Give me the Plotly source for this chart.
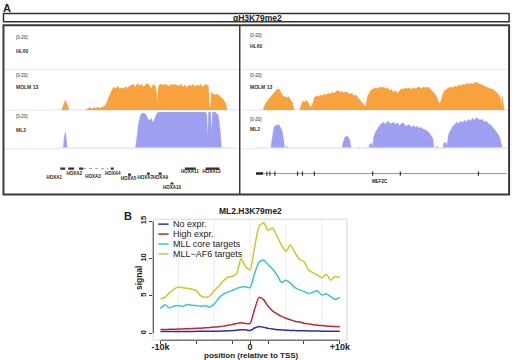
import plotly.graph_objects as go

W, H = 520, 360
FONT = "Liberation Sans, Arial, sans-serif"


def px(x):
    return x / W


def py(y):
    return 1 - y / H


# ---------------- Panel A data ----------------
PANEL_A_TITLE = "αH3K79me2"
TRACKS = ["HL60", "MOLM 13", "ML2"]
TRACK_SCALE = "[0-20]"
ORANGE = "#f8a23e"
PURPLE = "#9f9ff2"

# (position, coverage 0-20) for HOXA locus
HOXA_MOLM13 = [(55, 0), (60, 0), (61, 1), (62, 3), (63, 5), (64, 5.5), (65, 4.5), (66, 3), (67, 1), (68, 0),
               (84, 0), (86, 0.3), (87, 1), (89, 1.5), (91, 0.5), (93, 1.5), (95, 1), (97, 1.8), (99, 1),
               (101, 1.5), (103, 2), (105, 3), (107, 6), (109, 9), (111, 11), (113, 13), (115, 12),
               (117, 13.5), (119, 12), (121, 12.5), (123, 12), (125, 13), (127, 12.5), (129, 13.5),
               (131, 14), (133, 14.5), (135, 13), (137, 15), (139, 13.5), (141, 14.5), (143, 13),
               (145, 14), (147, 15), (149, 14), (151, 12), (153, 14.5), (155, 13.5), (156, 11), (157, 3),
               (158, 12), (159, 14), (161, 14.5), (163, 14), (165, 14.5), (167, 14), (169, 13.5),
               (171, 14.5), (173, 14), (175, 14.5), (177, 14), (179, 13.5), (181, 14.5), (183, 13),
               (185, 14), (187, 12.5), (189, 14), (191, 13.5), (193, 14.5), (195, 13), (197, 14),
               (199, 13.5), (201, 14.5), (203, 13), (205, 14), (207, 14.5), (209, 13), (210, 2), (211, 2),
               (212, 10), (214, 9), (216, 8.5), (218, 9), (220, 8), (222, 7), (224, 6), (226, 4), (228, 0),
               (235, 0)]
HOXA_ML2 = [(55, 0), (62, 0), (63, 6), (64, 8.8), (65, 5), (66, 0), (135, 0), (136, 3), (137, 8), (138, 13),
            (139, 16), (140, 18), (141, 19), (143, 19.5), (145, 19), (147, 17), (149, 15), (151, 16.5),
            (153, 14), (155, 17), (157, 19.5), (159, 20), (170, 20), (180, 19.8), (190, 20), (200, 20),
            (205, 20), (207, 19.5), (208, 6), (209, 20), (211, 20), (212, 8), (213, 20), (215, 20),
            (217, 19.5), (219, 18), (220, 14), (221, 8), (222, 0), (235, 0)]

# (position, coverage 0-20) for MEF2C locus
MEF2C_MOLM13 = [(258, 0), (264, 0), (266, 3), (268, 5), (270, 6.5), (272, 7.5), (274, 9), (276, 10.5),
                (278, 11.5), (280, 12), (282, 9.5), (284, 8), (286, 7.5), (288, 7), (290, 7.5), (292, 6),
                (294, 4), (295, 1), (296, 0), (301, 0), (302, 2), (304, 5), (306, 4.5), (308, 5.5),
                (310, 4), (312, 1.5), (314, 3), (316, 7), (318, 8), (320, 7.5), (322, 8.5), (324, 8),
                (326, 9), (328, 8.5), (330, 9.5), (332, 9), (334, 10), (336, 9.5), (338, 10.5), (340, 11),
                (342, 10), (344, 10.5), (346, 9.5), (348, 10.5), (350, 9.5), (352, 9), (354, 9.5), (356, 8),
                (358, 8.5), (360, 7), (362, 6), (364, 4.5), (366, 3), (368, 2), (370, 8), (372, 10),
                (374, 11.5), (376, 12), (378, 12.5), (380, 12), (382, 13), (384, 12.5), (386, 13), (388, 12),
                (390, 12.5), (392, 11), (394, 11.5), (396, 10), (398, 11), (400, 9.5), (402, 11), (404, 12),
                (406, 11.5), (408, 12.5), (410, 12), (412, 12.5), (414, 11.5), (416, 12.5), (418, 12),
                (420, 12.5), (422, 13), (424, 12), (426, 13), (428, 12.5), (430, 13), (432, 12.5),
                (434, 11.5), (436, 10), (438, 9), (440, 7), (442, 4), (444, 5), (446, 9), (448, 11),
                (450, 12), (452, 12.5), (454, 13), (456, 12.5), (458, 13.5), (460, 13), (462, 14),
                (464, 13.5), (466, 14.5), (468, 14), (470, 15), (472, 14.5), (474, 15), (476, 14.5),
                (478, 15.5), (480, 15.5), (482, 15), (484, 14.5), (486, 14), (488, 13.5), (490, 13),
                (492, 12.5), (494, 12), (496, 12), (498, 11), (500, 10), (502, 9), (504, 7), (505, 2),
                (506, 8), (507, 3), (508, 0), (512, 0)]
MEF2C_ML2 = [(258, 0), (272, 0), (273, 4), (274, 9), (275, 11), (276, 12.5), (277, 12), (278, 13), (279, 12.5),
             (280, 13), (281, 12), (282, 11.5), (283, 10), (284, 8), (285, 3), (286, 0), (287, 0), (288, 0.8),
             (289, 0), (344, 0), (345, 3), (346, 5), (347, 6), (348, 6.5), (349, 6), (350, 6.5), (351, 5),
             (352, 4), (353, 0), (360, 0), (361, 0.5), (362, 0), (366, 0), (367, 0.5), (368, 0), (371, 0),
             (372, 2), (374, 2.5), (375, 0.5), (376, 6), (378, 9), (380, 11), (382, 12.5), (384, 13.5),
             (386, 14.5), (388, 13), (390, 15), (392, 14), (394, 13.5), (396, 14.5), (398, 13), (400, 14),
             (402, 12.5), (404, 13.5), (406, 14), (408, 12), (410, 12.5), (412, 13), (414, 11.5),
             (416, 12.5), (418, 11.5), (420, 12), (422, 11), (424, 11.5), (426, 10.5), (428, 10),
             (430, 9.5), (432, 8.5), (434, 7), (436, 5), (437, 0), (439, 0), (440, 1), (441, 0), (446, 0),
             (447, 2.5), (448, 3), (449, 3), (450, 1), (451, 4), (452, 8), (454, 10), (456, 12), (458, 13),
             (460, 14.5), (462, 13.5), (464, 15), (466, 14), (468, 15.5), (470, 14.5), (472, 16), (474, 15),
             (476, 16.5), (478, 15.5), (480, 17), (482, 16), (484, 15.5), (486, 16), (488, 14.5), (490, 15),
             (492, 13.5), (494, 13), (496, 12), (498, 10.5), (500, 9), (502, 7.5), (504, 5), (505, 2),
             (506, 0), (512, 0)]

HOXA_GENES = ["HOXA1", "HOXA2", "HOXA3", "HOXA4", "HOXA5", "HOXA7", "HOXA9", "HOXA10", "HOXA11", "HOXA13"]
HOXA_START = [59, 67, 78, 110, 127.5, 146.5, 158.5, 170.5, 185, 206]
HOXA_END = [64, 73, 82, 113, 130.5, 149.5, 161.5, 173.5, 196, 220]
HOXA_LEVEL = [7, 7, 7, 7, 13, 12, 12, 22, 7, 7]
HOXA_LABEL_X = [53, 73, 92, 112, 128, 145, 160, 172, 190, 212]
HOXA_LABEL_LEVEL = [16, 12, 15, 12, 17, 16, 16, 26, 10, 10]
HOXA3_INTRON = (82, 108)

MEF2C_SPAN = (257, 511)
MEF2C_UTR = (257, 264)
MEF2C_EXONS = [268, 271, 276, 299, 304, 316, 375, 403, 482]
MEF2C_LEVEL = 12
MEF2C_LABEL = ("MEF2C", 382, 20)

# ---------------- Panel B data ----------------
PANEL_B_TITLE = "ML2.H3K79me2"
POS_KB = [-10, -9.5, -9, -8.5, -8, -7.5, -7, -6.5, -6, -5.5, -5, -4.5, -4, -3.5, -3, -2.5, -2, -1.5, -1, -0.5,
          0, 0.5, 1, 1.5, 2, 2.5, 3, 3.5, 4, 4.5, 5, 5.5, 6, 6.5, 7, 7.5, 8, 8.5, 9, 9.5, 10]
NO_EXPR = [0.22, 0.22, 0.23, 0.23, 0.23, 0.24, 0.24, 0.24, 0.25, 0.25, 0.25, 0.26, 0.27, 0.28, 0.3, 0.32,
           0.35, 0.4, 0.45, 0.45, 0.35, 0.7, 0.9, 0.8, 0.65, 0.55, 0.48, 0.44, 0.4, 0.37, 0.35, 0.33, 0.32,
           0.31, 0.3, 0.29, 0.28, 0.28, 0.27, 0.27, 0.26]
HIGH_EXPR = [0.5, 0.5, 0.52, 0.53, 0.55, 0.57, 0.6, 0.62, 0.65, 0.68, 0.72, 0.77, 0.82, 0.88, 0.95, 1.05,
             1.15, 1.3, 1.4, 1.3, 1.3, 3.2, 4.8, 4.5, 3.6, 3.0, 2.6, 2.25, 2.0, 1.8, 1.6, 1.5, 1.35, 1.25,
             1.15, 1.08, 1.02, 0.97, 0.93, 0.9, 0.88]
MLL_CORE = [3.3, 3.8, 3.4, 3.6, 3.7, 3.6, 3.85, 3.75, 3.7, 3.6, 3.7, 3.5, 3.9, 4.7, 5.2, 5.5, 5.7, 6.0, 6.2,
            6.2, 6.1, 8.0, 9.5, 9.8, 9.2, 8.6, 7.8, 6.8, 7.1, 6.7, 6.1, 5.8, 5.6, 5.3, 5.5, 5.7, 5.1, 5.3,
            4.9, 4.5, 4.8]
MLL_AF6 = [4.6, 4.8, 5.4, 5.9, 6.2, 6.1, 6.0, 5.9, 5.7, 5.0, 4.8, 5.0, 5.7, 6.3, 7.0, 7.5, 7.6, 8.0, 10.0,
           8.9, 8.5, 11.5, 14.3, 14.8, 13.8, 14.1, 13.0, 11.8, 11.0, 11.8, 10.8, 9.9, 9.6, 8.5, 8.1, 7.8,
           7.4, 7.9, 7.1, 7.6, 7.5]
SERIES_NAMES = ["No expr.", "High expr.", "MLL core targets", "MLL\u2212AF6 targets"]
SERIES_VALUES = [NO_EXPR, HIGH_EXPR, MLL_CORE, MLL_AF6]
SERIES_COLORS = ["#2e2eaa", "#c0282d", "#3cc6c6", "#c9c92c"]
X_TICKS = [-10, -6, -2, 0, 2, 6, 10]
X_TICK_TEXT = ["-10k", "", "", "0", "", "", "+10k"]
Y_TICKS = [0, 5, 10, 15]
GRID_KB = [-8, -4, 0, 4, 8]

fig = go.Figure()


def coverage(points, color, xa, ya):
    fig.add_trace(go.Scatter(
        x=[p for p, _ in points], y=[v for _, v in points], mode="lines",
        fill="tozeroy", fillcolor=color, line=dict(width=0.4, color=color),
        xaxis=xa, yaxis=ya, showlegend=False, hoverinfo="skip"))


coverage(HOXA_MOLM13, ORANGE, "x", "y")
coverage(HOXA_ML2, PURPLE, "x", "y2")
coverage(MEF2C_MOLM13, ORANGE, "x2", "y4")
coverage(MEF2C_ML2, PURPLE, "x2", "y5")

# HOXA gene track
gx, gy = [], []
for s, e, lv in zip(HOXA_START, HOXA_END, HOXA_LEVEL):
    gx += [s, e, None]
    gy += [lv, lv, None]
fig.add_trace(go.Scatter(x=[HOXA3_INTRON[0], HOXA3_INTRON[1]], y=[HOXA_LEVEL[2], HOXA_LEVEL[2]],
                         mode="lines", line=dict(color="#777", width=0.7, dash="dot"),
                         xaxis="x", yaxis="y3", showlegend=False))
fig.add_trace(go.Scatter(x=gx, y=gy, mode="lines", line=dict(color="#333", width=2.2),
                         xaxis="x", yaxis="y3", showlegend=False))
fig.add_trace(go.Scatter(x=HOXA_LABEL_X, y=HOXA_LABEL_LEVEL, text=HOXA_GENES, mode="text",
                         textfont=dict(family=FONT, size=4.5, color="#222", weight="bold"),
                         xaxis="x", yaxis="y3", showlegend=False))

# MEF2C gene track
fig.add_trace(go.Scatter(x=list(MEF2C_SPAN), y=[MEF2C_LEVEL, MEF2C_LEVEL], mode="lines",
                         line=dict(color="#777", width=0.8), xaxis="x2", yaxis="y6", showlegend=False))
fig.add_trace(go.Scatter(x=list(MEF2C_UTR), y=[MEF2C_LEVEL, MEF2C_LEVEL], mode="lines",
                         line=dict(color="#222", width=2.4), xaxis="x2", yaxis="y6", showlegend=False))
fig.add_trace(go.Scatter(x=MEF2C_EXONS, y=[MEF2C_LEVEL] * len(MEF2C_EXONS), mode="markers",
                         marker=dict(symbol="line-ns", size=3, line=dict(color="#333", width=1.2)),
                         xaxis="x2", yaxis="y6", showlegend=False))
fig.add_trace(go.Scatter(x=[MEF2C_LABEL[1]], y=[MEF2C_LABEL[2]], text=[MEF2C_LABEL[0]], mode="text",
                         textfont=dict(family=FONT, size=4.5, color="#222", weight="bold"),
                         xaxis="x2", yaxis="y6", showlegend=False))

# Panel B lines (draw top series first)
for name, vals, col in list(zip(SERIES_NAMES, SERIES_VALUES, SERIES_COLORS))[::-1]:
    fig.add_trace(go.Scatter(x=POS_KB, y=vals, mode="lines", name=name,
                             line=dict(color=col, width=1.5, shape="spline", smoothing=0.6),
                             xaxis="x3", yaxis="y7", showlegend=False))

hidden = dict(visible=False, fixedrange=True)
fig.update_layout(
    width=W, height=H, autosize=False,
    margin=dict(l=0, r=0, t=0, b=0),
    paper_bgcolor="white", plot_bgcolor="white",
    font=dict(family=FONT, color="#222"),
    xaxis=dict(domain=[px(2), px(240)], range=[2, 240], anchor="y", **hidden),
    xaxis2=dict(domain=[px(241), px(513)], range=[241, 513], anchor="y4", **hidden),
    yaxis=dict(domain=[py(108), py(72)], range=[0, 20], anchor="x", **hidden),
    yaxis2=dict(domain=[py(146), py(110)], range=[0, 20], anchor="x", **hidden),
    yaxis3=dict(domain=[py(193), py(160)], range=[33, 0], anchor="x", **hidden),
    yaxis4=dict(domain=[py(108), py(72)], range=[0, 20], anchor="x2", **hidden),
    yaxis5=dict(domain=[py(146), py(110)], range=[0, 20], anchor="x2", **hidden),
    yaxis6=dict(domain=[py(193), py(160)], range=[33, 0], anchor="x2", **hidden),
    xaxis3=dict(domain=[px(153), px(349)], range=[-10.8, 10.8], anchor="y7",
                tickmode="array", tickvals=X_TICKS, ticktext=X_TICK_TEXT,
                ticks="outside", ticklen=3, tickcolor="#444", tickwidth=1, ticklabelstandoff=-5,
                tickfont=dict(family=FONT, size=9, color="#222", weight="bold"),
                showline=False, zeroline=False, showgrid=False, fixedrange=True),
    yaxis7=dict(domain=[py(340), py(218)], range=[-0.93, 15.27], anchor="x3",
                tickmode="array", tickvals=Y_TICKS, ticktext=[str(v) for v in Y_TICKS],
                tickangle=-90, ticks="outside", ticklen=3, tickcolor="#444", tickwidth=1,
                tickfont=dict(family=FONT, size=7.5, color="#222", weight="bold"),
                showline=False, zeroline=False, showgrid=False, fixedrange=True),
)

shapes = []
# panel A frames
shapes.append(dict(type="rect", xref="paper", yref="paper", x0=px(1.5), x1=px(513), y0=py(19), y1=py(10.5),
                   line=dict(color="#333", width=1.5)))
shapes.append(dict(type="rect", xref="paper", yref="paper", x0=px(1.5), x1=px(513), y0=py(193), y1=py(22.5),
                   line=dict(color="#3a3a3a", width=2)))
shapes.append(dict(type="line", xref="paper", yref="paper", x0=px(240.5), x1=px(240.5), y0=py(193),
                   y1=py(22.5), line=dict(color="#3a3a3a", width=1.5)))
for yy in (67, 108, 147):
    for x0, x1 in ((3, 239), (242, 512)):
        shapes.append(dict(type="line", xref="paper", yref="paper", x0=px(x0), x1=px(x1), y0=py(yy), y1=py(yy),
                           line=dict(color="#e4e4e4", width=0.8), layer="below"))
# panel B frame, grid and R-style axis lines
shapes.append(dict(type="rect", xref="x3 domain", yref="y7 domain", x0=0, x1=1, y0=0, y1=1,
                   line=dict(color="#d6d6d6", width=1), layer="below"))
for g in GRID_KB:
    shapes.append(dict(type="line", xref="x3", yref="y7 domain", x0=g, x1=g, y0=0, y1=1,
                       line=dict(color="#eeeeee", width=1), layer="below"))
shapes.append(dict(type="line", xref="x3", yref="y7 domain", x0=X_TICKS[0], x1=X_TICKS[-1], y0=0, y1=0,
                   line=dict(color="#444", width=1)))
shapes.append(dict(type="line", xref="x3 domain", yref="y7", x0=0, x1=0, y0=Y_TICKS[0], y1=Y_TICKS[-1],
                   line=dict(color="#444", width=1)))
# legend keys
LEG_Y = [223, 233, 243, 253]
for col, ly in zip(SERIES_COLORS, LEG_Y):
    shapes.append(dict(type="line", xref="paper", yref="paper", x0=px(158), x1=px(168.5), y0=py(ly), y1=py(ly),
                       line=dict(color=col, width=1.5)))
fig.update_layout(shapes=shapes)

ann = []


def text(x, y, s, size, bold=False, xanchor="center", angle=0, color="#222"):
    ann.append(dict(x=px(x), y=py(y), xref="paper", yref="paper", text=s, showarrow=False,
                    xanchor=xanchor, yanchor="middle", textangle=angle,
                    font=dict(family=FONT, size=size, color=color, weight="bold" if bold else "normal")))


text(5, 5, "A", 11, True)
text(258, 15, PANEL_A_TITLE, 8.5, True)
LEFT_LAB_Y = [(35, 48), (73, 85), (114, 128)]
RIGHT_LAB_Y = [(33, 43), (73, 85), (117, 127)]
for name, (ys, yn) in zip(TRACKS, LEFT_LAB_Y):
    text(12, ys, TRACK_SCALE, 4.5, False, "left", color="#333")
    text(12, yn, name, 5, True, "left", color="#333")
for name, (ys, yn) in zip(TRACKS, RIGHT_LAB_Y):
    text(249, ys, TRACK_SCALE, 4.5, False, "left", color="#333")
    text(249, yn, name, 5, True, "left", color="#333")

text(127, 215, "B", 11, True)
text(251, 210, PANEL_B_TITLE, 8.5, True)
text(138, 277, "signal", 8.5, True, angle=-90)
text(252, 355.5, "position (relative to TSS)", 8, True)
for name, ly in zip(SERIES_NAMES, LEG_Y):
    text(171, ly, name, 9, False, "left")
fig.update_layout(annotations=ann)

fig.write_html("out.html", config={"displayModeBar": False},
               post_script="document.body.style.margin='0';document.body.style.overflow='hidden';")
